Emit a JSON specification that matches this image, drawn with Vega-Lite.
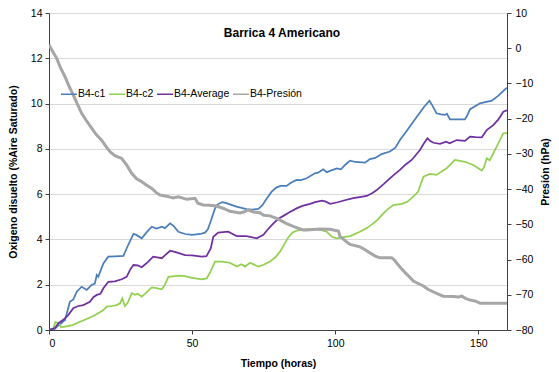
{
  "$schema": "https://vega.github.io/schema/vega-lite/v6.json",
  "autosize": {"type": "none"},
  "padding": {"left": 49, "top": 13, "right": 52, "bottom": 42},
  "width": 458,
  "height": 317,
  "background": "white",
  "title": {"text": "Barrica 4 Americano", "fontSize": 12, "fontWeight": "bold", "font": "Liberation Sans", "offset": -32, "dx": 4, "anchor": "middle", "color": "#000"},
  "datasets": {
    "c1": [{"t":0,"v":0},{"t":2,"v":0.05},{"t":3.3,"v":0.2},{"t":5.6,"v":0.44},{"t":7.3,"v":1.25},{"t":8.5,"v":1.35},{"t":9.7,"v":1.69},{"t":11.4,"v":1.91},{"t":13.2,"v":1.77},{"t":14.9,"v":1.99},{"t":16,"v":2.05},{"t":16.7,"v":2.43},{"t":17.2,"v":2.35},{"t":19,"v":2.94},{"t":20.7,"v":3.24},{"t":23,"v":3.25},{"t":26,"v":3.27},{"t":27.1,"v":3.6},{"t":29.5,"v":4.25},{"t":30.5,"v":4.2},{"t":32.4,"v":4.05},{"t":34,"v":4.3},{"t":35.9,"v":4.56},{"t":37.6,"v":4.48},{"t":39.4,"v":4.56},{"t":40.5,"v":4.5},{"t":42.3,"v":4.71},{"t":43.5,"v":4.6},{"t":45.2,"v":4.34},{"t":47.5,"v":4.24},{"t":50,"v":4.2},{"t":52.8,"v":4.24},{"t":54.5,"v":4.3},{"t":55.5,"v":4.45},{"t":56.5,"v":4.8},{"t":58,"v":5.37},{"t":59,"v":5.55},{"t":60.5,"v":5.65},{"t":62,"v":5.6},{"t":63.2,"v":5.55},{"t":65.5,"v":5.45},{"t":69,"v":5.34},{"t":71,"v":5.32},{"t":73.1,"v":5.35},{"t":74.5,"v":5.5},{"t":76,"v":5.8},{"t":77.8,"v":6.11},{"t":79.5,"v":6.3},{"t":81,"v":6.36},{"t":83,"v":6.36},{"t":84.5,"v":6.5},{"t":86.5,"v":6.63},{"t":88,"v":6.62},{"t":90,"v":6.7},{"t":92.9,"v":6.92},{"t":94,"v":6.95},{"t":95.8,"v":7.1},{"t":97,"v":6.97},{"t":100.5,"v":7.14},{"t":102,"v":7.1},{"t":103.5,"v":7.3},{"t":105.2,"v":7.48},{"t":107,"v":7.42},{"t":110.4,"v":7.39},{"t":112.1,"v":7.55},{"t":114,"v":7.6},{"t":116.2,"v":7.77},{"t":119.1,"v":7.88},{"t":121,"v":8.05},{"t":122.6,"v":8.39},{"t":125,"v":8.8},{"t":128.5,"v":9.42},{"t":131,"v":9.85},{"t":132.9,"v":10.13},{"t":134,"v":9.9},{"t":135.4,"v":9.57},{"t":137,"v":9.52},{"t":138.3,"v":9.5},{"t":139,"v":9.55},{"t":140.1,"v":9.3},{"t":142,"v":9.3},{"t":145.3,"v":9.3},{"t":146,"v":9.45},{"t":147.1,"v":9.75},{"t":150.6,"v":10.01},{"t":152,"v":10.05},{"t":154.7,"v":10.13},{"t":157,"v":10.35},{"t":159.3,"v":10.63},{"t":160,"v":10.7}],
    "c2": [{"t":0,"v":0},{"t":1.5,"v":0.05},{"t":2.2,"v":0.35},{"t":3.5,"v":0.3},{"t":4.2,"v":0.12},{"t":5.6,"v":0.15},{"t":7.9,"v":0.2},{"t":9.6,"v":0.3},{"t":11.5,"v":0.4},{"t":13.7,"v":0.52},{"t":15.5,"v":0.62},{"t":17.2,"v":0.74},{"t":19,"v":0.88},{"t":20.2,"v":1.03},{"t":22,"v":1.06},{"t":23.6,"v":1.1},{"t":24.8,"v":1.18},{"t":25.6,"v":1.4},{"t":26.5,"v":1.06},{"t":27.5,"v":1.2},{"t":28.9,"v":1.62},{"t":30,"v":1.55},{"t":31,"v":1.6},{"t":32.4,"v":1.47},{"t":34,"v":1.65},{"t":35.9,"v":1.88},{"t":37.5,"v":1.85},{"t":39.4,"v":1.8},{"t":40.5,"v":2.0},{"t":41.7,"v":2.35},{"t":44,"v":2.38},{"t":45.5,"v":2.4},{"t":47.5,"v":2.38},{"t":50,"v":2.3},{"t":53.3,"v":2.24},{"t":55.1,"v":2.28},{"t":56.5,"v":2.6},{"t":58,"v":3.02},{"t":60.3,"v":3.02},{"t":63.2,"v":2.97},{"t":65.6,"v":2.8},{"t":67.2,"v":2.9},{"t":68.5,"v":2.8},{"t":70.2,"v":2.97},{"t":73.1,"v":2.8},{"t":75,"v":2.88},{"t":77.2,"v":3.02},{"t":79,"v":3.2},{"t":80.7,"v":3.46},{"t":82,"v":3.75},{"t":83.6,"v":4.09},{"t":85,"v":4.3},{"t":86.5,"v":4.39},{"t":90,"v":4.46},{"t":93.5,"v":4.44},{"t":95.5,"v":4.4},{"t":97,"v":4.34},{"t":98.8,"v":4.12},{"t":100.5,"v":4.05},{"t":102.8,"v":4.1},{"t":105.2,"v":4.15},{"t":108.6,"v":4.34},{"t":111,"v":4.5},{"t":113.3,"v":4.71},{"t":115,"v":4.9},{"t":116.8,"v":5.15},{"t":118.5,"v":5.35},{"t":120.3,"v":5.52},{"t":123.2,"v":5.57},{"t":125,"v":5.65},{"t":126.7,"v":5.82},{"t":129,"v":6.11},{"t":130,"v":6.5},{"t":130.8,"v":6.77},{"t":133.1,"v":6.89},{"t":135.4,"v":6.85},{"t":136.6,"v":6.95},{"t":138.9,"v":7.14},{"t":140.5,"v":7.35},{"t":141.8,"v":7.51},{"t":145.3,"v":7.43},{"t":148.2,"v":7.29},{"t":151.2,"v":7.04},{"t":152,"v":7.2},{"t":152.9,"v":7.58},{"t":154,"v":7.5},{"t":155,"v":7.75},{"t":156.4,"v":8.1},{"t":158.7,"v":8.69},{"t":160,"v":8.7}],
    "avg": [{"t":0,"v":0},{"t":2,"v":0.08},{"t":3.3,"v":0.3},{"t":5,"v":0.45},{"t":6.7,"v":0.66},{"t":8.5,"v":0.96},{"t":10,"v":1.05},{"t":12,"v":1.1},{"t":14.3,"v":1.25},{"t":15.5,"v":1.45},{"t":16.7,"v":1.55},{"t":18,"v":1.6},{"t":19,"v":1.84},{"t":20.7,"v":2.13},{"t":23,"v":2.15},{"t":25.4,"v":2.24},{"t":27.1,"v":2.35},{"t":28.5,"v":2.7},{"t":29.5,"v":2.87},{"t":31,"v":2.85},{"t":32.4,"v":2.77},{"t":34.5,"v":3.0},{"t":36.4,"v":3.24},{"t":39.4,"v":3.17},{"t":40.5,"v":3.3},{"t":42.3,"v":3.5},{"t":44,"v":3.45},{"t":47.5,"v":3.31},{"t":50,"v":3.3},{"t":53.3,"v":3.24},{"t":55,"v":3.26},{"t":56.5,"v":3.6},{"t":57.4,"v":4.12},{"t":59.1,"v":4.3},{"t":62.6,"v":4.34},{"t":64,"v":4.25},{"t":65.6,"v":4.15},{"t":69,"v":4.15},{"t":72.6,"v":4.05},{"t":74.9,"v":4.2},{"t":76.5,"v":4.45},{"t":78.4,"v":4.71},{"t":80,"v":4.9},{"t":81.9,"v":5.04},{"t":84,"v":5.2},{"t":86.5,"v":5.37},{"t":88.5,"v":5.48},{"t":91.2,"v":5.57},{"t":93,"v":5.65},{"t":95.3,"v":5.71},{"t":96.5,"v":5.68},{"t":98.2,"v":5.57},{"t":100.5,"v":5.63},{"t":103,"v":5.72},{"t":106.3,"v":5.82},{"t":108.5,"v":5.87},{"t":111,"v":5.92},{"t":113,"v":6.05},{"t":114.5,"v":6.18},{"t":117,"v":6.45},{"t":119.1,"v":6.7},{"t":120.5,"v":6.85},{"t":122.6,"v":7.07},{"t":124.5,"v":7.3},{"t":126.7,"v":7.51},{"t":129.6,"v":7.95},{"t":131,"v":8.25},{"t":132.2,"v":8.47},{"t":133.2,"v":8.35},{"t":134.3,"v":8.27},{"t":136.6,"v":8.22},{"t":138.7,"v":8.32},{"t":140,"v":8.25},{"t":142.4,"v":8.39},{"t":145.3,"v":8.35},{"t":147.1,"v":8.54},{"t":149,"v":8.52},{"t":151.2,"v":8.51},{"t":152.9,"v":8.83},{"t":155.2,"v":9.05},{"t":157,"v":9.3},{"t":158.7,"v":9.64},{"t":160,"v":9.7}],
    "pres": [{"t":0,"v":1},{"t":1,"v":-0.5},{"t":2.7,"v":-2.9},{"t":4,"v":-5.5},{"t":5.6,"v":-8.1},{"t":7,"v":-10.8},{"t":8.5,"v":-13.3},{"t":10,"v":-16},{"t":11.4,"v":-18.5},{"t":13,"v":-20.5},{"t":14.9,"v":-22.7},{"t":16.5,"v":-24.5},{"t":18.4,"v":-26.1},{"t":20,"v":-28},{"t":21.3,"v":-29.4},{"t":23,"v":-30.5},{"t":25.4,"v":-31.3},{"t":27,"v":-33},{"t":28.9,"v":-35.5},{"t":30.5,"v":-37},{"t":32.4,"v":-37.9},{"t":34,"v":-38.8},{"t":35.9,"v":-39.8},{"t":37.5,"v":-41},{"t":38.8,"v":-41.7},{"t":41,"v":-42},{"t":43.4,"v":-42.5},{"t":45.2,"v":-42.2},{"t":48.1,"v":-42.9},{"t":51,"v":-42.6},{"t":52,"v":-44},{"t":53.9,"v":-44.5},{"t":56,"v":-44.6},{"t":58.6,"v":-44.8},{"t":61,"v":-45.5},{"t":63.2,"v":-46.3},{"t":66.7,"v":-46.8},{"t":68,"v":-46.5},{"t":69.6,"v":-45.9},{"t":71.4,"v":-46.5},{"t":73.7,"v":-46.7},{"t":75,"v":-47.4},{"t":77.2,"v":-47.6},{"t":79.5,"v":-48.3},{"t":80.7,"v":-48.8},{"t":83,"v":-49.8},{"t":85.3,"v":-50.6},{"t":88.8,"v":-51.6},{"t":90,"v":-51.6},{"t":94.7,"v":-51.3},{"t":98.2,"v":-51.4},{"t":99.3,"v":-51.6},{"t":101.1,"v":-51.9},{"t":101.7,"v":-53.5},{"t":102.5,"v":-54},{"t":104.6,"v":-55.4},{"t":105.2,"v":-55.7},{"t":108.6,"v":-56.4},{"t":110,"v":-57},{"t":112.1,"v":-58.1},{"t":114,"v":-59},{"t":115.6,"v":-59.5},{"t":117.5,"v":-59.5},{"t":119.7,"v":-59.5},{"t":120.5,"v":-60},{"t":121.4,"v":-60.9},{"t":123,"v":-62.5},{"t":124.4,"v":-63.7},{"t":126,"v":-65},{"t":127.3,"v":-66.1},{"t":129,"v":-66.8},{"t":130.8,"v":-67.5},{"t":132.5,"v":-68.5},{"t":134.3,"v":-69.2},{"t":136,"v":-69.8},{"t":137.7,"v":-70.4},{"t":141.2,"v":-70.5},{"t":143,"v":-70.6},{"t":144.2,"v":-70.4},{"t":145.5,"v":-71},{"t":147.1,"v":-71.5},{"t":149,"v":-71.8},{"t":150.6,"v":-72.4},{"t":155,"v":-72.4},{"t":160,"v":-72.4}]
  },
  "encoding": {
    "x": {"field": "t", "type": "quantitative", "scale": {"domain": [0, 160], "nice": false, "zero": false},
      "axis": {"title": "Tiempo (horas)", "values": [0, 50, 100, 150], "grid": false, "tickSize": 4, "labelPadding": 4, "titlePadding": 10}}
  },
  "layer": [
    {
      "layer": [
        {"data": {"name": "c1"}, "mark": {"type": "line", "strokeWidth": 1.75, "clip": true},
          "encoding": {"y": {"field": "v", "type": "quantitative"}, "color": {"datum": "B4-c1"}}},
        {"data": {"name": "c2"}, "mark": {"type": "line", "strokeWidth": 1.75, "clip": true},
          "encoding": {"y": {"field": "v", "type": "quantitative"}, "color": {"datum": "B4-c2"}}},
        {"data": {"name": "avg"}, "mark": {"type": "line", "strokeWidth": 1.75, "clip": true},
          "encoding": {"y": {"field": "v", "type": "quantitative", "scale": {"domain": [0, 14], "nice": false},
            "axis": {"title": "Oxigeno disuelto (%Aire Saturado)", "values": [0, 2, 4, 6, 8, 10, 12, 14], "grid": true, "tickSize": 4, "labelPadding": 3, "titlePadding": 12}},
            "color": {"datum": "B4-Average"}}}
      ]
    },
    {"data": {"name": "pres"}, "mark": {"type": "line", "strokeWidth": 3, "clip": true},
      "encoding": {"y": {"field": "v", "type": "quantitative", "scale": {"domain": [-80, 10], "nice": false, "zero": false},
        "axis": {"title": "Presión (hPa)", "orient": "right", "values": [-80, -70, -60, -50, -40, -30, -20, -10, 0, 10], "grid": false, "tickSize": 4, "labelPadding": 4, "titlePadding": 18, "titleAngle": 270}},
        "color": {"datum": "B4-Presión", "type": "nominal",
          "scale": {"domain": ["B4-c1", "B4-c2", "B4-Average", "B4-Presión"], "range": ["#4a7ebb", "#92d050", "#7030a0", "#a6a6a6"]},
          "legend": {"title": null, "orient": "none", "legendX": 11, "legendY": 72, "direction": "horizontal", "symbolType": "stroke", "symbolSize": 256, "symbolStrokeWidth": 1.5, "labelFontSize": 10.5, "labelOffset": 0, "columnPadding": 0, "padding": 0, "labelColor": "#000"}}}}
  ],
  "resolve": {"scale": {"y": "independent"}},
  "config": {
    "font": "Liberation Sans",
    "view": {"stroke": null},
    "axis": {"domainColor": "#404040", "tickColor": "#404040", "labelColor": "#000", "labelFontSize": 10.5, "titleFontSize": 10.5, "titleFontWeight": "bold", "titleColor": "#000", "gridColor": "#d9d9d9", "labelFont": "Liberation Sans", "titleFont": "Liberation Sans"}
  }
}
